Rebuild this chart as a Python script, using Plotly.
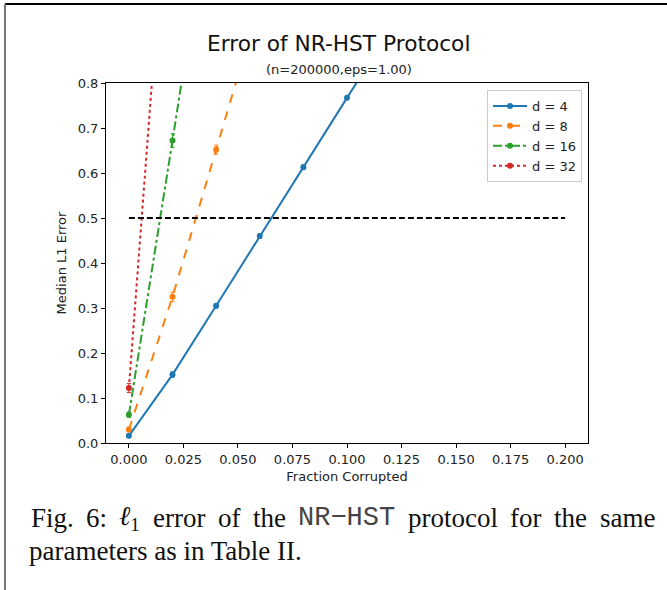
import plotly.graph_objects as go

# ---- data ----
frac = [0.0, 0.02, 0.04, 0.06, 0.08, 0.10, 0.12]
d4 = [0.016, 0.152, 0.305, 0.460, 0.613, 0.767, 0.92]
d4_err = [0.004, 0.006, 0.005, 0.005, 0.005, 0.004, 0.005]
d8 = [0.030, 0.325, 0.652, 0.98]
d8_err = [0.005, 0.010, 0.010, 0.010]
d16 = [0.063, 0.672, 1.30]
d16_err = [0.006, 0.015, 0.015]
d32 = [0.122, 1.41]
d32_err = [0.010, 0.015]
threshold_x = [0.0, 0.2]
threshold_y = [0.5, 0.5]

series = [
    ("d = 4", d4, d4_err, "#1f77b4", "solid"),
    ("d = 8", d8, d8_err, "#ff7f0e", "dash"),
    ("d = 16", d16, d16_err, "#2ca02c", "dashdot"),
    ("d = 32", d32, d32_err, "#d62728", "dot"),
]

L, R, T, B = 106, 588, 83, 443
W, H = 667, 590
def px(x):
    return (x - L) / (R - L)
def py(y):
    return (B - y) / (B - T)

fig = go.Figure()
for name, ys, es, col, dash in series:
    fig.add_trace(go.Scatter(
        x=frac[:len(ys)], y=ys, name=name, mode="lines+markers",
        line=dict(color=col, width=2, dash=dash),
        marker=dict(color=col, size=6, symbol="circle"),
        error_y=dict(type="data", array=es, visible=True, color=col, thickness=1, width=2),
        cliponaxis=True,
    ))
fig.add_trace(go.Scatter(
    x=threshold_x, y=threshold_y, mode="lines", showlegend=False,
    line=dict(color="black", width=1.8, dash="6px,3px"), hoverinfo="skip",
))

font = "DejaVu Sans"
fig.update_layout(
    width=W, height=H,
    margin=dict(l=L, r=W - R, t=T, b=H - B),
    paper_bgcolor="white", plot_bgcolor="white",
    font=dict(family=font, size=13, color="#222"),
    showlegend=True,
    legend=dict(x=px(487), y=py(90), xanchor="left", yanchor="top",
                bordercolor="#cccccc", borderwidth=1, bgcolor="white",
                font=dict(family=font, size=13, color="#222"),
                tracegroupgap=0, itemwidth=34),
    xaxis=dict(range=[-0.0105, 0.2105], tickvals=[0, 0.025, 0.05, 0.075, 0.1, 0.125, 0.15, 0.175, 0.2],
               tickformat=".3f", ticks="outside", ticklen=4, tickcolor="black",
               showline=True, linecolor="black", linewidth=1, mirror=True,
               showgrid=False, zeroline=False,
               title=dict(text="Fraction Corrupted", standoff=6, font=dict(size=13)),
               tickfont=dict(size=13, color="#222")),
    yaxis=dict(range=[0, 0.8], tickvals=[0, 0.1, 0.2, 0.3, 0.4, 0.5, 0.6, 0.7, 0.8],
               tickformat=".1f", ticks="outside", ticklen=4, tickcolor="black",
               showline=True, linecolor="black", linewidth=1, mirror=True,
               showgrid=False, zeroline=False,
               title=dict(text="Median L1 Error", standoff=8, font=dict(size=13)),
               tickfont=dict(size=13, color="#222")),
)

anns = [
    dict(text="Error of NR-HST Protocol", x=px(338.5), y=py(44), font=dict(family=font, size=21.7, color="#111")),
    dict(text="(n=200000,eps=1.00)", x=px(338.5), y=py(70), font=dict(family=font, size=13, color="#222")),
]
for a in anns:
    fig.add_annotation(xref="paper", yref="paper", showarrow=False, xanchor="center", yanchor="middle", **a)

# ---- caption (justified first line, word by word) ----
serif = "Liberation Serif"
mono = "'Courier New', 'Liberation Mono', Cousine, 'Nimbus Mono PS', FreeMono, monospace"
cap_size = 27
words = [
    ("Fig.", serif, 1.584, "#111"),
    ("6:", serif, 0.778, "#111"),
    ("<i>ℓ</i><sub>1</sub>", serif, 0.80, "#111"),
    ("error", serif, 1.943, "#111"),
    ("of", serif, 0.833, "#111"),
    ("the", serif, 1.222, "#111"),
    ("NR−HST", mono, 3.6, "#444"),
    ("protocol", serif, 3.333, "#111"),
    ("for", serif, 1.166, "#111"),
    ("the", serif, 1.222, "#111"),
    ("same", serif, 2.055, "#111"),
]
x_start, x_end = 29, 653
total = sum(w[2] for w in words) * cap_size
gap = (x_end - x_start - total) / (len(words) - 1)
xpos = x_start
for txt, fam, wem, col in words:
    fig.add_annotation(xref="paper", yref="paper", showarrow=False, xanchor="left", yanchor="middle",
                       x=px(xpos), y=py(518), text=txt,
                       font=dict(family=fam, size=cap_size, color=col))
    xpos += wem * cap_size + gap
fig.add_annotation(xref="paper", yref="paper", showarrow=False, xanchor="left", yanchor="middle",
                   x=px(27), y=py(551), text="parameters as in Table II.",
                   font=dict(family=serif, size=cap_size, color="#111"))

# page frame
fig.add_shape(type="line", xref="paper", yref="paper", x0=px(5), x1=px(667), y0=py(4), y1=py(4),
              line=dict(color="black", width=2))
fig.add_shape(type="line", xref="paper", yref="paper", x0=px(5), x1=px(5), y0=py(4), y1=py(590),
              line=dict(color="#777777", width=2))

fig.write_html("out.html", config={"displayModeBar": False},
               post_script="document.body.style.margin='0';document.body.style.overflow='hidden';")
